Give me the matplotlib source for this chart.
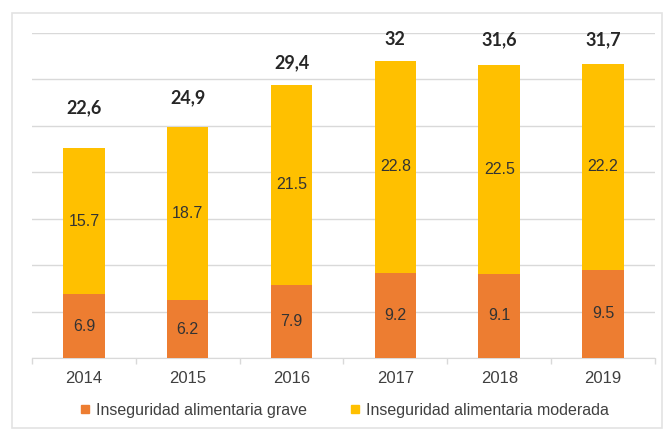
import numpy as np
import matplotlib.pyplot as plt
from matplotlib.patches import Rectangle
from matplotlib.lines import Line2D

# data
years = ['2014', '2015', '2016', '2017', '2018', '2019']
grave = [6.9, 6.2, 7.9, 9.2, 9.1, 9.5]
moderada = [15.7, 18.7, 21.5, 22.8, 22.5, 22.2]
totals = ['22,6', '24,9', '29,4', '32', '31,6', '31,7']

# how far above each bar top the total sits (points)
total_offsets = [23, 15, 10, 9, 12, 11]

c_grave = '#ED7D31'
c_mod = '#FFC000'

plt.rcParams['font.family'] = ['Liberation Sans', 'DejaVu Sans']

fig = plt.figure(figsize=(6.72, 4.34), dpi=100)
ax = fig.add_axes([0.0476, 0.175, 0.927, 0.749])

x = np.arange(len(years))
ax.bar(x, grave, width=0.4, color=c_grave, zorder=3)
ax.bar(x, moderada, width=0.4, bottom=grave, color=c_mod, zorder=3)

for i in range(len(years)):
    ax.text(x[i], grave[i] / 2, str(grave[i]), ha='center', va='center',
            fontsize=11.5, color='#333333', zorder=4)
    ax.text(x[i], grave[i] + moderada[i] / 2, str(moderada[i]), ha='center',
            va='center', fontsize=11.5, color='#333333', zorder=4)
    top = grave[i] + moderada[i]
    ax.annotate(totals[i], (x[i], top), xytext=(0, total_offsets[i]),
                textcoords='offset points', ha='center', va='bottom',
                fontsize=13, fontweight='bold', family=['Lato', 'DejaVu Sans'],
                color='#262626')

ax.set_xlim(-0.5, len(years) - 0.5)
ax.set_ylim(0, 35)
ax.set_yticks(np.arange(0, 36, 5))
ax.yaxis.grid(True, color='#D9D9D9', linewidth=1, zorder=0)
ax.tick_params(axis='y', length=0, labelleft=False)

ax.set_xticks(x)
ax.set_xticklabels(years, fontsize=12, color='#404040')
ax.set_xticks(np.arange(-0.5, len(years), 1), minor=True)
ax.tick_params(axis='x', which='major', length=0, pad=9)
ax.tick_params(axis='x', which='minor', length=4, color='#D9D9D9', width=1)

for s in ['top', 'right', 'left']:
    ax.spines[s].set_visible(False)
ax.spines['bottom'].set_color('#D9D9D9')

handles = [Line2D([], [], marker='s', linestyle='none', markersize=6, color=c_grave),
           Line2D([], [], marker='s', linestyle='none', markersize=6, color=c_mod)]
fig.legend(handles, ['Inseguridad alimentaria grave', 'Inseguridad alimentaria moderada'],
           loc='center', bbox_to_anchor=(0.512, 0.055), ncol=2, frameon=False,
           fontsize=11.5, handlelength=0.8, handletextpad=0.3, columnspacing=2.6,
           labelcolor='#404040')

# light frame around the chart
fig.patches.append(Rectangle((12 / 672, 6 / 434), 650 / 672, 415 / 434,
                             transform=fig.transFigure, fill=False,
                             edgecolor='#E3E3E3', linewidth=1.2))

fig.savefig('out.png', dpi=100)
